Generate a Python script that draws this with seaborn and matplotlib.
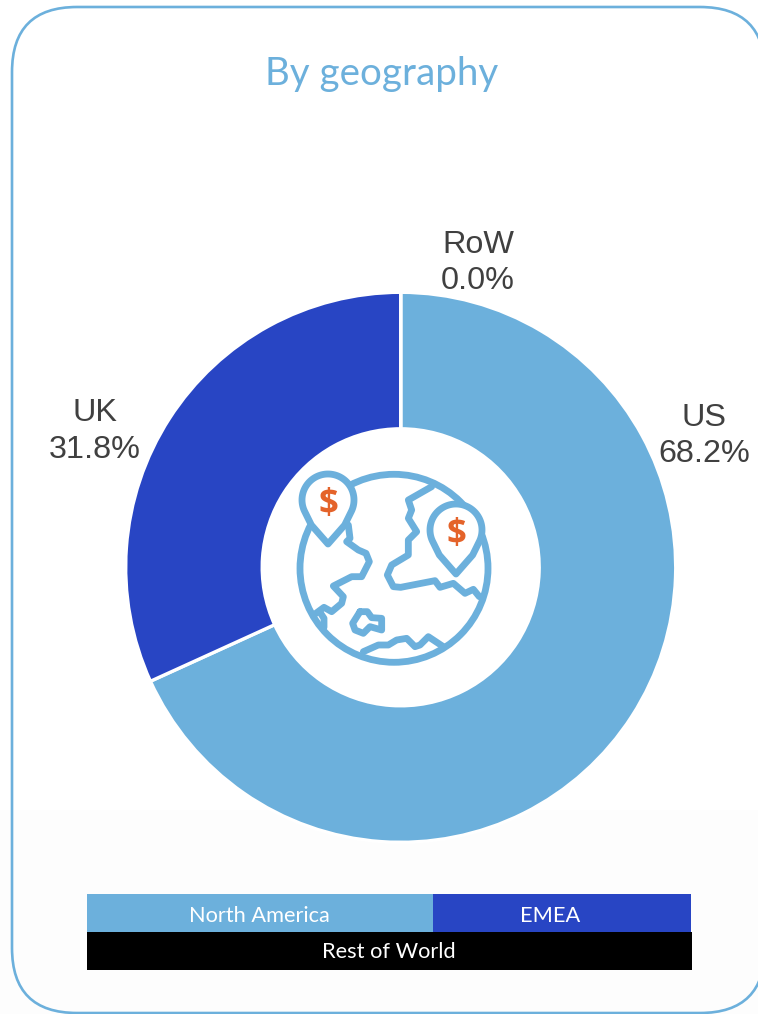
import matplotlib
matplotlib.use("Agg")
import matplotlib.pyplot as plt
import seaborn as sns
import numpy as np
from matplotlib.patches import FancyBboxPatch, PathPatch, Rectangle, Circle
from matplotlib.path import Path

# chart values
regions = ["US", "UK", "RoW"]
shares = [68.2, 31.8, 0.0]
legend_names = ["North America", "EMEA", "Rest of World"]
title = "By geography"

BLUE = "#6CB0DC"
DARK = "#2845C4"
ORANGE = "#E4632A"
W, H = 758, 1014

sns.set_theme(style="white")
palette = sns.color_palette([BLUE, DARK, "#000000"])


def px(x, y):
    # picture pixels (y down) to axes data (y up)
    return x, H - y


def zoomed(points):
    return [px(280 + x / 3, 450 + y / 3) for x, y in points]


fig = plt.figure(figsize=(W / 100, H / 100), dpi=100)
ax = fig.add_axes([0, 0, 1, 1])

# card background and border
ax.add_patch(Rectangle(px(0, H), W, H - 810, fc="#FDFDFD", ec="none", zorder=0))
x0, y0 = px(12, 1013)
# almost clear face: an unfilled path running off the canvas gets clipped badly by agg
ax.add_patch(FancyBboxPatch((x0, y0), 765 - 12, 1013 - 7,
                            boxstyle="round,pad=0,rounding_size=65",
                            fc=(1, 1, 1, 0.01), ec=BLUE, lw=1.9, zorder=1))

# donut
ax.pie(shares, colors=palette, startangle=90, counterclock=False,
       center=px(400.7, 567.3), radius=275,
       wedgeprops=dict(width=136.5, edgecolor="white", linewidth=2.4))

ax.text(*px(382, 74), title, color=BLUE, fontsize=27.7, family="Lato",
        ha="center", va="center")

label_pos = [(704.5, 436), (94.5, 431.5), (478, 263)]
for name, val, (lx, ly) in zip(regions, shares, label_pos):
    ax.text(*px(lx, ly), f"{name}\n{val:.1f}%", color="#404040", fontsize=23.3,
            family="Liberation Sans", ha="center", va="center", linespacing=1.28)

# globe icon
icon = dict(color=BLUE, lw=4.9, solid_joinstyle="round", solid_capstyle="round", zorder=5)
ax.add_patch(Circle(px(394, 568.3), 94, fc="none", ec=BLUE, lw=4.9, zorder=5))

coast_a = [(205, 225), (210, 265), (200, 275), (235, 300), (258, 310), (268, 335),
           (245, 380), (215, 380), (160, 408), (190, 440), (185, 460), (155, 485),
           (132, 472), (105, 492)]
coast_a2 = [(122, 490), (132, 505), (132, 532)]
coast_b = [(455, 110), (385, 150), (395, 180), (385, 205), (410, 245), (385, 270),
           (385, 315), (335, 345), (322, 375), (340, 410), (362, 412), (465, 392),
           (480, 412), (520, 400), (555, 430), (580, 418), (598, 440)]
island = [(240, 485), (262, 485), (275, 503), (305, 505), (305, 540), (270, 530),
          (250, 550), (225, 540), (218, 520), (240, 485)]
coast_d = [(250, 605), (295, 585), (325, 585), (350, 570), (380, 565), (405, 590),
           (420, 585), (445, 560), (490, 590)]
for line in [coast_a, coast_a2, coast_b, island, coast_d]:
    xs, ys = zip(*zoomed(line))
    ax.plot(xs, ys, **icon)


def pin(cx, cy):
    # teardrop marker: round head, curved sides down to the tip
    r, tip = 78, 132
    a = np.radians(np.linspace(-28, 208, 60))
    head = [(cx + r * np.cos(t), cy - r * np.sin(t)) for t in a]
    pts = head + [(cx - 50, cy + 75), (cx, cy + tip), (cx + 50, cy + 75), head[0]]
    verts = zoomed(pts)
    ax.add_patch(PathPatch(Path(verts, closed=True), fc="white", ec=BLUE, lw=4.9,
                           joinstyle="round", zorder=6))
    tx, ty = zoomed([(cx, cy + 15)])[0]
    ax.text(tx, ty, "$", color=ORANGE, fontsize=25, family="Open Sans",
            fontweight="bold", ha="center", va="center", zorder=7)


pin(144, 150)
pin(528, 240)

# legend strip
rows = [(87, 894, 346, 38), (433, 894, 258, 38), (87, 932, 605, 38)]
name_pos = [(259.5, 916), (550, 916), (389, 952)]
for name, color, (lx, ly, lw_, lh), pos in zip(legend_names, palette, rows, name_pos):
    ax.add_patch(Rectangle(px(lx, ly + lh), lw_, lh, fc=color, ec="none", zorder=3))
    ax.text(*px(*pos), name, color="white", fontsize=15.7,
            family="Lato", ha="center", va="center", zorder=4)

ax.set_xlim(0, W)
ax.set_ylim(0, H)
ax.set_aspect("auto")
ax.axis("off")

fig.savefig("out.png", dpi=100, facecolor="white")
